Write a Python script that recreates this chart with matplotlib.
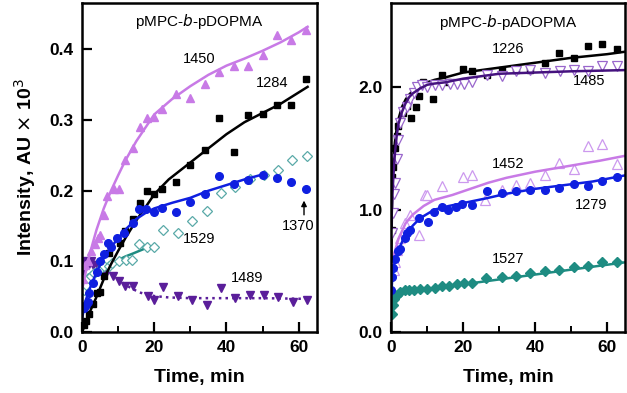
import numpy as np
import matplotlib.pyplot as plt
from matplotlib.ticker import MultipleLocator

plt.rcParams['font.family'] = ['Liberation Sans', 'DejaVu Sans']

# ---------------- left panel: pMPC-b-pDOPMA ----------------
t_1450 = [0.3, 0.8, 1.5, 2.5, 3.5, 4.4, 5.0, 6.0, 6.8, 8.7, 10.2, 12, 14, 16, 18, 20, 22,
          26, 30, 34, 38, 42, 46, 50, 54, 58, 62]
v_1450 = [0.075, 0.095, 0.1, 0.115, 0.125, 0.133, 0.138, 0.165, 0.192, 0.203, 0.203, 0.244,
          0.261, 0.29, 0.303, 0.305, 0.315, 0.337, 0.331, 0.351, 0.368, 0.376, 0.376, 0.392,
          0.42, 0.413, 0.427]
fit_t_1450 = [0, 1, 2, 3, 4, 6, 8, 10, 12, 15, 20, 25, 30, 35, 40, 45, 50, 55, 60, 62.5]
fit_v_1450 = [0.06, 0.085, 0.108, 0.127, 0.145, 0.175, 0.2, 0.222, 0.243, 0.27, 0.308, 0.33,
              0.348, 0.364, 0.377, 0.387, 0.398, 0.41, 0.424, 0.432]

t_1284 = [0.5, 1, 2, 3, 4, 5, 6, 7.5, 10.4, 12, 14, 16, 18, 20, 22, 26, 30, 34, 38, 42, 46,
          50, 54, 58, 62]
v_1284 = [0.01, 0.015, 0.025, 0.04, 0.055, 0.057, 0.08, 0.112, 0.126, 0.143, 0.16, 0.183, 0.2,
          0.195, 0.203, 0.212, 0.236, 0.257, 0.303, 0.255, 0.307, 0.309, 0.321, 0.321, 0.358]
fit_t_1284 = [0, 1, 2, 4, 6, 8, 10, 12, 15, 18, 20, 24, 30, 35, 40, 45, 50, 55, 62.5]
fit_v_1284 = [0.0, 0.013, 0.027, 0.05, 0.075, 0.096, 0.115, 0.133, 0.158, 0.18, 0.195, 0.216,
              0.24, 0.26, 0.28, 0.297, 0.31, 0.323, 0.347]

t_1370 = [0.5, 1, 1.5, 2, 3, 4, 5, 6, 7.2, 8, 9.8, 11.7, 14, 15.8, 17.6, 20, 22, 26, 30, 34,
          38, 42, 46, 50, 54, 58, 62]
v_1370 = [0.034, 0.038, 0.043, 0.055, 0.07, 0.085, 0.1, 0.11, 0.126, 0.121, 0.133, 0.14,
          0.155, 0.174, 0.174, 0.17, 0.175, 0.17, 0.184, 0.195, 0.221, 0.21, 0.215, 0.222,
          0.218, 0.212, 0.203]
fit_t_1370 = [0, 1, 2, 4, 6, 8, 10, 12, 15, 18, 20, 25, 30, 35, 40, 45, 50]
fit_v_1370 = [0.02, 0.045, 0.06, 0.085, 0.105, 0.12, 0.133, 0.145, 0.16, 0.17, 0.175, 0.183,
              0.19, 0.2, 0.208, 0.216, 0.223]

t_1529 = [0.6, 1, 1.5, 2.4, 3.4, 4.7, 6.1, 7.5, 8.4, 10.3, 12.1, 13.9, 15.8, 17.9, 19.9,
          22.3, 26.5, 30.4, 34.5, 38.4, 42.4, 46.4, 50.4, 54.4, 58.2, 62.4]
v_1529 = [0.06, 0.067, 0.076, 0.079, 0.083, 0.088, 0.093, 0.094, 0.098, 0.101, 0.102, 0.102,
          0.124, 0.121, 0.121, 0.145, 0.14, 0.157, 0.171, 0.197, 0.205, 0.216, 0.222, 0.229,
          0.243, 0.249]
fit_t_1529a = [0, 2, 4, 6, 8, 10]
fit_v_1529a = [0.06, 0.072, 0.082, 0.09, 0.096, 0.102]
fit_t_1529b = [10, 12, 14, 17.3]
fit_v_1529b = [0.102, 0.107, 0.111, 0.118]

t_1489 = [0.3, 0.6, 1, 1.5, 2, 2.5, 3, 4, 5, 6, 6.7, 8.5, 10.2, 12, 14, 18.2, 20, 22.5,
          26.5, 30.4, 34.5, 38.4, 42.5, 46.5, 50.4, 54.4, 58.4, 62.4]
v_1489 = [0.085, 0.095, 0.1, 0.098, 0.097, 0.1, 0.095, 0.095, 0.09, 0.088, 0.084, 0.08,
          0.072, 0.065, 0.065, 0.051, 0.046, 0.064, 0.051, 0.046, 0.038, 0.062, 0.048, 0.053,
          0.053, 0.05, 0.043, 0.045]
fit_t_1489 = [0, 2, 4, 6, 8, 10, 12, 14, 16, 18, 20, 24, 30, 40, 50, 62.5]
fit_v_1489 = [0.095, 0.097, 0.095, 0.09, 0.083, 0.075, 0.067, 0.061, 0.056, 0.053, 0.051,
              0.049, 0.048, 0.048, 0.048, 0.047]

# ---------------- right panel: pMPC-b-pADOPMA ----------------
t_1226 = [0.1, 0.2, 0.6, 1, 1.5, 2, 3.4, 4.5, 5.5, 6.8, 7.6, 8.9, 11.7, 14, 15.9, 20,
          22.4, 26.5, 30.7, 34.6, 38.7, 42.7, 46.6, 50.7, 54.7, 58.6, 62.7]
v_1226 = [0.83, 1.27, 1.35, 1.5, 1.6, 1.68, 1.79, 1.85, 1.75, 1.84, 1.93, 2.04, 1.9, 2.1,
          2.04, 2.15, 2.13, 2.1, 2.14, 2.14, 2.14, 2.2, 2.28, 2.24, 2.34, 2.35, 2.31]
fit_t_1226 = [0, 0.3, 0.6, 1, 1.5, 2, 3, 4, 5, 6, 8, 10, 12, 15, 20, 30, 40, 50, 60, 65]
fit_v_1226 = [0.6, 1.2, 1.4, 1.55, 1.66, 1.74, 1.84, 1.9, 1.94, 1.97, 2.01, 2.04, 2.06, 2.08,
              2.12, 2.16, 2.2, 2.24, 2.27, 2.29]

t_1485 = [0.2, 0.6, 0.8, 1.1, 1.6, 2, 2.5, 3.4, 4.3, 5.3, 6.2, 7.1, 8.5, 9.9, 12.2, 14,
          16.3, 18.2, 20.2, 22.5, 26.5, 30.7, 34.6, 38.7, 42.7, 46.8, 50.7, 54.7, 58.6, 62.7]
v_1485 = [0.81, 0.97, 1.13, 1.22, 1.41, 1.57, 1.71, 1.8, 1.84, 1.9, 1.95, 2.0, 2.02, 2.0,
          2.02, 2.02, 2.03, 2.03, 2.03, 2.04, 2.1, 2.09, 2.13, 2.14, 2.12, 2.13, 2.14, 2.13,
          2.17, 2.17]
fit_t_1485 = [0, 0.3, 0.6, 1, 1.5, 2, 3, 4, 5, 6, 8, 10, 12, 15, 20, 25, 30, 40, 50, 65]
fit_v_1485 = [0.85, 1.1, 1.28, 1.45, 1.6, 1.7, 1.8, 1.87, 1.92, 1.95, 1.99, 2.02, 2.03, 2.04,
              2.07, 2.09, 2.11, 2.12, 2.13, 2.14]

t_1452 = [0.9, 1.1, 1.6, 2.5, 3.9, 5.3, 7.6, 9.4, 9.9, 14, 20, 22.4, 26, 30.7, 34.6, 38.7,
          42.7, 46.6, 50.7, 54.7, 58.6, 62.7]
v_1452 = [0.51, 0.57, 0.67, 0.77, 0.89, 0.96, 0.79, 1.12, 1.12, 1.19, 1.27, 1.28, 1.08,
          1.16, 1.2, 1.22, 1.28, 1.38, 1.33, 1.52, 1.54, 1.37]
fit_t_1452 = [0, 0.3, 1, 2, 4, 6, 9, 12, 17, 22, 27, 32, 40, 50, 58, 65]
fit_v_1452 = [0.3, 0.55, 0.66, 0.76, 0.89, 0.96, 1.03, 1.08, 1.12, 1.17, 1.22, 1.26, 1.31,
              1.36, 1.4, 1.44]

t_1279 = [0.0, 0.2, 0.6, 1.1, 2.0, 2.5, 3.9, 4.3, 5.3, 7.6, 10.2, 12, 14, 15.9, 17.9, 19.8,
          22.5, 26.5, 30.7, 34.6, 38.7, 42.7, 46.6, 50.7, 54.7, 58.6, 62.7]
v_1279 = [0.34, 0.45, 0.52, 0.6, 0.66, 0.68, 0.77, 0.81, 0.83, 0.93, 0.9, 0.98, 1.02, 1.0,
          1.02, 1.05, 1.04, 1.15, 1.14, 1.15, 1.16, 1.16, 1.18, 1.21, 1.19, 1.23, 1.27]
fit_t_1279 = [0, 0.3, 1, 2, 4, 6, 8, 12, 16, 21, 26, 32, 40, 48, 56, 65]
fit_v_1279 = [0.3, 0.45, 0.58, 0.67, 0.8, 0.87, 0.93, 1.0, 1.03, 1.06, 1.09, 1.13, 1.17, 1.2,
              1.23, 1.28]

t_1527 = [0.2, 0.4, 0.9, 1.6, 2.5, 3.7, 4.8, 6.2, 8, 9.9, 12.2, 14.2, 16.1, 18.2, 20.3,
          22.5, 26.2, 30.7, 34.6, 38.7, 42.7, 46.6, 50.7, 54.7, 58.6, 62.7]
v_1527 = [0.15, 0.22, 0.27, 0.3, 0.33, 0.34, 0.34, 0.34, 0.35, 0.35, 0.36, 0.38, 0.38,
          0.39, 0.4, 0.4, 0.44, 0.45, 0.46, 0.48, 0.5, 0.51, 0.53, 0.54, 0.57, 0.57]
fit_t_1527 = [0, 0.5, 1, 2, 4, 8, 12, 16, 20, 25, 30, 40, 50, 60, 65]
fit_v_1527 = [0.2, 0.25, 0.27, 0.3, 0.33, 0.35, 0.36, 0.38, 0.39, 0.41, 0.43, 0.47, 0.51,
              0.55, 0.57]

violet = '#c87ae6'
lilac = '#cc99ee'
blue = '#0f1fe0'
teal = '#1e8c82'
teal_light = '#5aaaa8'
purple = '#5a1e9a'
indigo = '#45127e'

fig = plt.figure(figsize=(6.27, 3.93), dpi=100)
ax1 = fig.add_axes([0.131, 0.155, 0.374, 0.838])
ax2 = fig.add_axes([0.624, 0.155, 0.373, 0.838])

# left panel
ax1.plot(fit_t_1489, fit_v_1489, ':', color=purple, lw=1.8)
ax1.plot(t_1489, v_1489, 'v', color=purple, ms=5.5, ls='none')
ax1.plot(fit_t_1529a, fit_v_1529a, ':', color=teal, lw=1.8)
ax1.plot(fit_t_1529b, fit_v_1529b, '-', color=teal, lw=1.8)
ax1.plot(t_1529, v_1529, 'D', mfc='white', mec=teal_light, mew=0.9, ms=5, ls='none')
ax1.plot(fit_t_1284, fit_v_1284, '-', color='black', lw=1.8)
ax1.plot(t_1284, v_1284, 's', color='black', ms=5, ls='none')
ax1.plot(fit_t_1370, fit_v_1370, '-', color=blue, lw=1.8)
ax1.plot(t_1370, v_1370, 'o', color=blue, ms=5.5, ls='none')
ax1.plot(fit_t_1450, fit_v_1450, '-', color=violet, lw=1.8)
ax1.plot(t_1450, v_1450, '^', color=violet, ms=6, ls='none')

ax1.set_xlim(0, 65)
ax1.set_ylim(0, 0.466)
ax1.yaxis.set_major_locator(MultipleLocator(0.1))
ax1.text(32.5, 0.44, 'pMPC-$\\it{b}$-pDOPMA', ha='center', va='center', fontsize=11)
ax1.text(32.5, 0.386, '1450', ha='center', va='center', fontsize=10.5)
ax1.text(52.7, 0.352, '1284', ha='center', va='center', fontsize=10.5)
ax1.text(32.5, 0.132, '1529', ha='center', va='center', fontsize=10.5)
ax1.text(59.8, 0.15, '1370', ha='center', va='center', fontsize=10.5)
ax1.text(45.8, 0.076, '1489', ha='center', va='center', fontsize=10.5)
ax1.annotate('', xy=(61.5, 0.19), xytext=(61.5, 0.162),
             arrowprops=dict(arrowstyle='-|>', lw=1, color='black', mutation_scale=8))
ax1.set_ylabel('Intensity, AU $\\times$ 10$^3$', fontsize=14, fontweight='bold', labelpad=8)

# right panel
ax2.plot(t_1527, v_1527, 'D', color=teal, ms=5, ls='none')
ax2.plot(fit_t_1527, fit_v_1527, '-', color=teal, lw=1.8)
ax2.plot(t_1452, v_1452, '^', mfc='white', mec=lilac, mew=0.9, ms=6.5, ls='none')
ax2.plot(fit_t_1452, fit_v_1452, '-', color=violet, lw=1.8)
ax2.plot(t_1279, v_1279, 'o', color=blue, ms=5.5, ls='none')
ax2.plot(fit_t_1279, fit_v_1279, '-', color=blue, lw=1.8)
ax2.plot(t_1226, v_1226, 's', color='black', ms=5, ls='none')
ax2.plot(fit_t_1226, fit_v_1226, '-', color='black', lw=1.8)
ax2.plot(t_1485, v_1485, 'v', mfc='white', mec='#9966cc', mew=0.9, ms=6.5, ls='none')
ax2.plot(fit_t_1485, fit_v_1485, '-', color=indigo, lw=1.8)

ax2.set_xlim(0, 65)
ax2.set_ylim(0, 2.69)
ax2.yaxis.set_major_locator(MultipleLocator(1.0))
ax2.text(32.5, 2.53, 'pMPC-$\\it{b}$-pADOPMA', ha='center', va='center', fontsize=11)
ax2.text(32.5, 2.31, '1226', ha='center', va='center', fontsize=10.5)
ax2.text(55.1, 2.05, '1485', ha='center', va='center', fontsize=10.5)
ax2.text(32.5, 1.37, '1452', ha='center', va='center', fontsize=10.5)
ax2.text(55.6, 1.04, '1279', ha='center', va='center', fontsize=10.5)
ax2.text(32.5, 0.6, '1527', ha='center', va='center', fontsize=10.5)

for ax in (ax1, ax2):
    ax.xaxis.set_major_locator(MultipleLocator(20))
    ax.xaxis.set_minor_locator(MultipleLocator(10))
    ax.tick_params(which='major', direction='in', length=7, width=1.6, labelsize=12.5, pad=6)
    ax.tick_params(which='minor', direction='in', length=4, width=1.4)
    for lab in ax.get_xticklabels() + ax.get_yticklabels():
        lab.set_fontweight('bold')
    for sp in ax.spines.values():
        sp.set_linewidth(1.8)
    ax.set_xlabel('Time, min', fontsize=14, fontweight='bold', labelpad=10)
    ax.yaxis.set_major_formatter(plt.FormatStrFormatter('%.1f'))

fig.savefig('out.png', dpi=100)
